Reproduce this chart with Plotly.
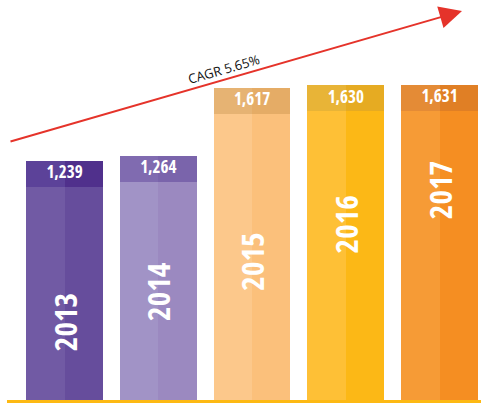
import plotly.graph_objects as go

# ---- data ----
years = ["2013", "2014", "2015", "2016", "2017"]
values = [1239, 1264, 1617, 1630, 1631]
value_labels = ["1,239", "1,264", "1,617", "1,630", "1,631"]
cagr_label = "CAGR 5.65%"

# ---- styles ----
body_left = ["#715aa4", "#a193c6", "#fcc88b", "#fec036", "#f69b36"]
body_right = ["#664d9c", "#9b89c0", "#fbc07b", "#fcb816", "#f58e22"]
band_left = ["#5c4299", "#806bb0", "#e6b373", "#e8b437", "#e48b36"]
band_right = ["#50308c", "#7a64ab", "#e5ac66", "#e6ab22", "#e07f25"]

W, H = 481, 403
PLOT_H = 400
SLOT = 93.75          # px per category
C0 = 64.5             # px centre of first bar
PXU = 0.193           # px per value unit
YMAX = PLOT_H / PXU
BAND = 26 / PXU       # band height in value units
HALF = 0.41

xpos = list(range(len(years)))
x_lo = -C0 / SLOT
x_hi = (W - C0) / SLOT

def px_to_x(px):
    return (px - C0) / SLOT

def py_to_y(py):
    return (PLOT_H - py) / PXU

COND = "Open Sans, sans-serif"

fig = go.Figure()
# bar bodies (two-tone halves)
fig.add_trace(go.Bar(x=xpos, y=values, width=HALF, offset=-HALF,
                     marker=dict(color=body_left, line=dict(width=0)), hoverinfo="skip"))
fig.add_trace(go.Bar(x=xpos, y=values, width=HALF, offset=0,
                     marker=dict(color=body_right, line=dict(width=0)), hoverinfo="skip"))
# darker top bands
band_base = [v - BAND for v in values]
fig.add_trace(go.Bar(x=xpos, y=[BAND] * len(values), base=band_base, width=HALF, offset=-HALF,
                     marker=dict(color=band_left, line=dict(width=0)), hoverinfo="skip"))
fig.add_trace(go.Bar(x=xpos, y=[BAND] * len(values), base=band_base, width=HALF, offset=0,
                     marker=dict(color=band_right, line=dict(width=0)), hoverinfo="skip"))
# value labels
fig.add_trace(go.Scatter(x=xpos, y=[v - BAND / 2 for v in values], mode="text",
                         text=value_labels, textposition="middle center",
                         textfont=dict(color="white", size=17, family=COND, weight="bold"),
                         cliponaxis=False, hoverinfo="skip"))

# year labels (rotated)
year_label_py = [322, 292, 262, 224, 190]
for i, yr in enumerate(years):
    fig.add_annotation(x=xpos[i], y=py_to_y(year_label_py[i]), text=yr, textangle=-90,
                       showarrow=False, xanchor="center", yanchor="middle",
                       font=dict(color="white", size=31, family=COND, weight="bold"))

# CAGR arrow
fig.add_annotation(x=px_to_x(462), y=py_to_y(11), ax=px_to_x(9), ay=py_to_y(142),
                   xref="x", yref="y", axref="x", ayref="y", text="",
                   showarrow=True, arrowhead=2, arrowsize=2.25, arrowwidth=2,
                   arrowcolor="#e5332a")
fig.add_annotation(x=px_to_x(224), y=py_to_y(69), text=cagr_label, textangle=-16.2,
                   showarrow=False, xanchor="center", yanchor="middle",
                   font=dict(color="#111111", size=13, family="Open Sans, sans-serif",
                             weight=500))

# yellow baseline
fig.add_shape(type="rect", xref="paper", yref="paper", x0=7 / W, x1=1,
              y0=-3 / PLOT_H, y1=0, fillcolor="#fdb913", line=dict(width=0), layer="above")

fig.update_layout(
    width=W, height=H, margin=dict(l=0, r=0, t=0, b=H - PLOT_H),
    paper_bgcolor="white", plot_bgcolor="white", showlegend=False,
    barmode="overlay", bargap=0,
    xaxis=dict(range=[x_lo, x_hi], visible=False, fixedrange=True),
    yaxis=dict(range=[0, YMAX], visible=False, fixedrange=True),
)

POST = (
    "var s=document.createElement('style');"
    "s.textContent='text[style*=\"31px\"],text[style*=\"17px\"]{font-stretch:ultra-condensed !important;}';"
    "document.head.appendChild(s);"
    "document.body.style.margin='0';document.body.style.overflow='hidden';"
)
fig.write_html("out.html", config={"displayModeBar": False}, post_script=POST)
